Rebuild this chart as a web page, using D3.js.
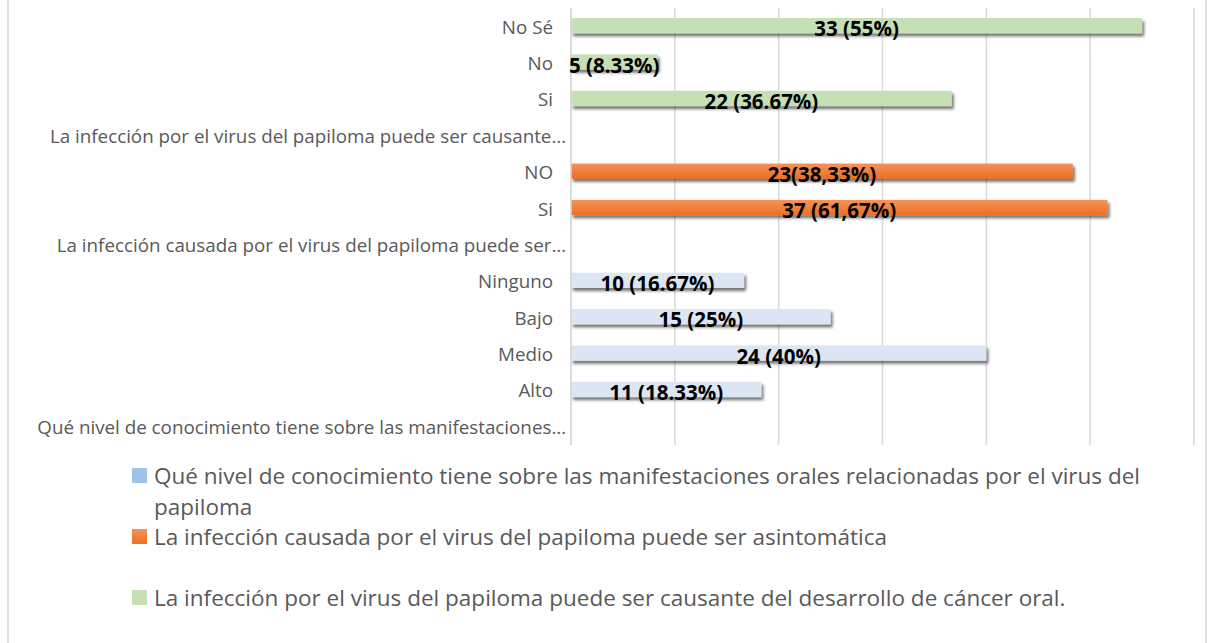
<!DOCTYPE html>
<html><head><meta charset="utf-8">
<script src="https://cdn.jsdelivr.net/npm/d3@7"></script>
<style>
html,body{margin:0;padding:0;background:#fff;}
svg{display:block;}
</style></head>
<body>
<svg id="chart" width="1209" height="643"></svg>
<script>
// Rows from bottom to top (Excel category order)
const categories = [
  "Qué nivel de conocimiento tiene sobre las manifestaciones…",
  "Alto", "Medio", "Bajo", "Ninguno",
  "La infección causada por el virus del papiloma puede ser…",
  "Si", "NO",
  "La infección  por el virus del papiloma puede ser causante…",
  "Si", "No", "No Sé"
];
const seriesNames = [
  "Qué nivel de conocimiento tiene sobre las manifestaciones orales relacionadas por el virus del papiloma",
  "La infección causada por el virus del papiloma puede ser asintomática",
  "La infección  por el virus del papiloma puede ser causante del desarrollo de cáncer oral."
];
// series 1: knowledge level (rows 1-4)
const knowledgeRows = [1, 2, 3, 4];
const knowledgeValues = [11, 24, 15, 10];
const knowledgeLabels = ["11 (18.33%)", "24 (40%)", "15 (25%)", "10 (16.67%)"];
// series 2: asymptomatic (rows 6-7)
const asymRows = [6, 7];
const asymValues = [31, 29];
const asymLabels = ["37 (61,67%)", "23(38,33%)"];
// series 3: oral cancer (rows 9-11)
const cancerRows = [9, 10, 11];
const cancerValues = [22, 5, 33];
const cancerLabels = ["22 (36.67%)", "5 (8.33%)", "33 (55%)"];
const xTicks = [0, 6, 12, 18, 24, 30, 36];

const colors = ["#dce6f2", "url(#gOrange)", "#c5e0b4"];
const legendColors = ["#9dc3e6", "url(#gOrange)", "#c5e0b4"];

const svg = d3.select("#chart");
const defs = svg.append("defs");
const g1 = defs.append("linearGradient").attr("id","gOrange").attr("x1",0).attr("y1",0).attr("x2",0).attr("y2",1);
g1.append("stop").attr("offset","0%").attr("stop-color","#f4935a");
g1.append("stop").attr("offset","100%").attr("stop-color","#eb7021");
const f = defs.append("filter").attr("id","shadow").attr("x","-5%").attr("y","-50%").attr("width","115%").attr("height","250%");
f.append("feDropShadow").attr("dx",2).attr("dy",3).attr("stdDeviation",1.8).attr("flood-color","#000").attr("flood-opacity",0.55);

// frame side lines
svg.append("line").attr("x1",8).attr("x2",8).attr("y1",0).attr("y2",643).attr("stroke","#d9d9d9").attr("stroke-width",1.5);
svg.append("line").attr("x1",1206).attr("x2",1206).attr("y1",0).attr("y2",643).attr("stroke","#d9d9d9").attr("stroke-width",1.5);

const x = d3.scaleLinear().domain([0, 36]).range([571, 1194]);
const y = d3.scaleBand().domain(d3.range(categories.length)).range([445, 8.5]).paddingInner(0.58).paddingOuter(0.29);

// gridlines
svg.append("g").selectAll("line").data(xTicks).join("line")
  .attr("x1", d => x(d)).attr("x2", d => x(d))
  .attr("y1", 8).attr("y2", 445)
  .attr("stroke", "#d9d9d9").attr("stroke-width", 1.5);

// category labels
svg.append("g").selectAll("text").data(categories).join("text")
  .attr("x", d => d.endsWith("…") ? 566 : 553)
  .attr("y", (d, i) => y(i) + y.bandwidth()/2)
  .attr("text-anchor", "end")
  .attr("dominant-baseline", "central")
  .attr("font-family", "'Open Sans', sans-serif")
  .attr("font-size", 18.8)
  .attr("fill", "#595959")
  .text(d => d);

const bars = [];
knowledgeRows.forEach((r, i) => bars.push({row: r, v: knowledgeValues[i], label: knowledgeLabels[i], s: 0}));
asymRows.forEach((r, i) => bars.push({row: r, v: asymValues[i], label: asymLabels[i], s: 1}));
cancerRows.forEach((r, i) => bars.push({row: r, v: cancerValues[i], label: cancerLabels[i], s: 2}));

svg.append("g").selectAll("rect").data(bars).join("rect")
  .attr("x", x(0))
  .attr("y", d => y(d.row) - 1)
  .attr("width", d => x(d.v) - x(0))
  .attr("height", y.bandwidth())
  .attr("fill", d => colors[d.s])
  .attr("filter", "url(#shadow)");

// axis line
svg.append("line").attr("x1", x(0)).attr("x2", x(0)).attr("y1", 8).attr("y2", 445)
  .attr("stroke", "#d9d9d9").attr("stroke-width", 1.5);

svg.append("g").selectAll("text").data(bars).join("text")
  .attr("x", d => (x(0) + x(d.v)) / 2)
  .attr("y", d => y(d.row) + y.bandwidth()/2 + 1.5)
  .attr("text-anchor", "middle")
  .attr("dominant-baseline", "central")
  .attr("font-family", "'Open Sans', sans-serif")
  .attr("font-weight", "bold")
  .attr("font-size", 20.5)
  .attr("fill", "#000")
  .text(d => d.label);

// legend
const legendItems = [
  {s: 0, y: 475, lines: ["Qué nivel de conocimiento tiene sobre las manifestaciones orales relacionadas por el virus del", "papiloma"]},
  {s: 1, y: 536, lines: [seriesNames[1]]},
  {s: 2, y: 597, lines: [seriesNames[2]]}
];
const lg = svg.append("g");
legendItems.forEach(it => {
  lg.append("rect").attr("x", 132).attr("y", it.y - 7).attr("width", 15).attr("height", 15)
    .attr("fill", legendColors[it.s]);
  const t = lg.append("text").attr("x", 154).attr("y", it.y)
    .attr("dominant-baseline", "central")
    .attr("font-family", "'Open Sans', sans-serif").attr("font-size", 22.5).attr("fill", "#595959");
  it.lines.forEach((ln, k) => t.append("tspan").attr("x", 154).attr("dy", k === 0 ? 0 : 31).text(ln));
});
</script>
</body></html>
